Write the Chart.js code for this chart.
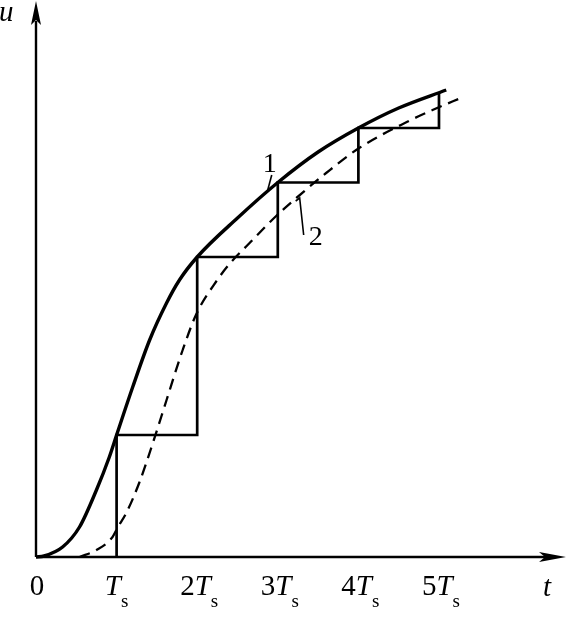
<!DOCTYPE html>
<html>
<head>
<meta charset="utf-8">
<script src="https://cdn.jsdelivr.net/npm/chart.js@4/dist/chart.umd.min.js"></script>
<style>
html,body{margin:0;padding:0;background:#fff;}
canvas{display:block;}
</style>
</head>
<body>
<canvas id="c" width="582" height="622"></canvas>
<script>
// ---- data (t in units of Ts, u in arbitrary units) ----
const curve1T = [0, 0.1, 0.33, 0.54, 0.75, 0.91, 1.0, 1.2, 1.41, 1.62, 1.78, 2.0, 2.5, 3.0, 3.5, 4.0, 4.5, 5.09];
const curve1U = [0, 0.1, 1.0, 3.0, 6.7, 10.0, 12.2, 17.0, 21.7, 25.4, 27.7, 30.0, 33.9, 37.45, 40.5, 42.9, 44.9, 46.7];

const curve2T = [0.54, 0.75, 0.95, 1.01, 1.12, 1.28, 1.45, 1.62, 1.82, 1.99, 2.24, 2.4, 2.65, 2.98, 3.23, 3.6, 4.01, 4.6, 4.92, 5.3];
const curve2U = [0, 0.7, 2.0, 2.9, 4.4, 7.4, 11.4, 15.7, 20.7, 24.3, 27.6, 29.3, 31.4, 34.1, 35.9, 38.4, 40.9, 43.5, 44.7, 46.0];

const sampleT = [1, 2, 3, 4, 5];
const sampleU = [12.2, 30.0, 37.45, 42.9, 46.5];

const tickMultiples = [1, 2, 3, 4, 5];
const tickNumText = ["", "2", "3", "4", "5"];
const axisLabelX = "t";
const axisLabelY = "u";
const curveLabels = ["1", "2"];

// ---- build datasets ----
const pts = (ts, us) => ts.map((t, i) => ({x: t, y: us[i]}));
const stepPts = [];
let prev = 0;
sampleT.forEach((t, i) => {
  stepPts.push({x: t, y: prev});
  stepPts.push({x: t, y: sampleU[i]});
  prev = sampleU[i];
});

const FONT = "'Liberation Serif','Times New Roman',serif";

const decor = {
  id: 'decor',
  afterDraw(chart) {
    const ctx = chart.ctx;
    const xs = chart.scales.x, ys = chart.scales.y;
    const ca = chart.chartArea;
    const x0 = xs.getPixelForValue(0);
    const y0 = ys.getPixelForValue(0);
    ctx.save();
    ctx.strokeStyle = '#000';
    ctx.fillStyle = '#000';
    ctx.lineWidth = 2.4;
    // y axis
    ctx.beginPath();
    ctx.moveTo(x0, y0);
    ctx.lineTo(x0, ca.top + 16);
    ctx.stroke();
    const yTip = ca.top - 4;
    ctx.beginPath();
    ctx.moveTo(x0, yTip);
    ctx.lineTo(x0 + 5, yTip + 24);
    ctx.lineTo(x0, yTip + 19);
    ctx.lineTo(x0 - 5, yTip + 24);
    ctx.closePath();
    ctx.fill();
    // x axis
    ctx.beginPath();
    ctx.moveTo(x0, y0);
    ctx.lineTo(ca.right - 16, y0);
    ctx.stroke();
    const xTip = ca.right;
    ctx.beginPath();
    ctx.moveTo(xTip, y0);
    ctx.lineTo(xTip - 27, y0 - 5);
    ctx.lineTo(xTip - 21, y0);
    ctx.lineTo(xTip - 27, y0 + 5);
    ctx.closePath();
    ctx.fill();

    // tick labels
    const base = y0 + 38;
    ctx.textBaseline = 'alphabetic';
    ctx.textAlign = 'left';
    ctx.font = '29px ' + FONT;
    const w0 = ctx.measureText('0').width;
    ctx.fillText('0', x0 - w0 / 2 + 1, base);
    tickMultiples.forEach((m, i) => {
      const px = xs.getPixelForValue(m);
      const num = tickNumText[i];
      ctx.font = '29px ' + FONT;
      const wn = ctx.measureText(num).width;
      ctx.font = 'italic 29px ' + FONT;
      const wt = ctx.measureText('T').width;
      ctx.font = '19px ' + FONT;
      const ws = ctx.measureText('s').width;
      let x = px - (wn + wt + ws) / 2 + (num ? 2 : 0);
      ctx.font = '29px ' + FONT;
      ctx.fillText(num, x, base);
      x += wn;
      ctx.font = 'italic 29px ' + FONT;
      ctx.fillText('T', x, base);
      x += wt;
      ctx.font = '19px ' + FONT;
      ctx.fillText('s', x, base + 12);
    });
    // axis names
    ctx.font = 'italic 29px ' + FONT;
    ctx.fillText(axisLabelX, ca.right - 23, base + 1);
    ctx.fillText(axisLabelY, x0 - 37, ca.top + 16);

    // curve labels with leader lines
    ctx.font = '28px ' + FONT;
    ctx.textAlign = 'center';
    const l1x = xs.getPixelForValue(2.9), l1y = ys.getPixelForValue(38.5);
    ctx.fillText(curveLabels[0], l1x, l1y);
    ctx.lineWidth = 1.6;
    ctx.beginPath();
    ctx.moveTo(l1x + 2, l1y + 3);
    ctx.lineTo(l1x - 2, l1y + 18);
    ctx.stroke();
    const l2x = xs.getPixelForValue(3.47), l2y = ys.getPixelForValue(31.2);
    ctx.fillText(curveLabels[1], l2x, l2y);
    ctx.beginPath();
    ctx.moveTo(l2x - 20, l2y - 44);
    ctx.lineTo(l2x - 16, l2y - 47);
    ctx.lineTo(l2x - 12, l2y - 10);
    ctx.stroke();
    ctx.restore();
  }
};

new Chart(document.getElementById('c'), {
  type: 'line',
  data: {
    datasets: [
      {
        data: pts(curve1T, curve1U),
        borderColor: '#000',
        borderWidth: 3.4,
        pointRadius: 0,
        cubicInterpolationMode: 'monotone',
        fill: false,
        clip: false
      },
      {
        data: pts(curve2T, curve2U),
        borderColor: '#000',
        borderWidth: 2.3,
        borderDash: [11, 7],
        pointRadius: 0,
        cubicInterpolationMode: 'monotone',
        fill: false,
        clip: false
      },
      {
        data: stepPts,
        borderColor: '#000',
        borderWidth: 2.7,
        pointRadius: 0,
        tension: 0,
        borderJoinStyle: 'miter',
        fill: false,
        clip: false
      }
    ]
  },
  options: {
    responsive: false,
    animation: false,
    parsing: true,
    layout: {padding: {left: 36, right: 16, top: 5, bottom: 65}},
    plugins: {legend: {display: false}, tooltip: {enabled: false}},
    scales: {
      x: {type: 'linear', min: 0, max: 6.576, display: false},
      y: {type: 'linear', min: 0, max: 55.2, display: false}
    }
  },
  plugins: [decor]
});
</script>
</body>
</html>
